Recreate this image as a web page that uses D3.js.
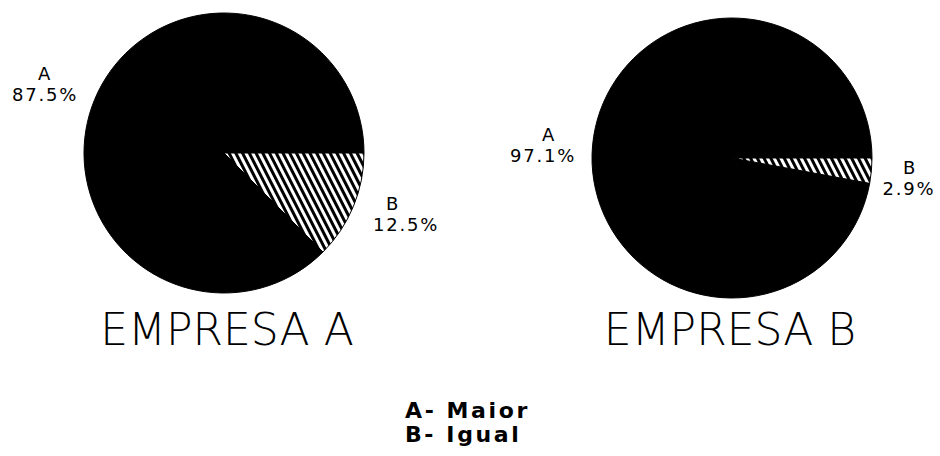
<!DOCTYPE html>
<html>
<head>
<meta charset="utf-8">
<script src="https://cdn.jsdelivr.net/npm/d3@7"></script>
<style>
  html, body { margin: 0; padding: 0; background: #fff; }
  svg { display: block; }
  .slice-label { font-family: "DejaVu Sans", sans-serif; font-size: 18px; fill: #000; letter-spacing: 1.8px; }
  .title { font-family: "DejaVu Sans", sans-serif; font-weight: 200; font-size: 44px; fill: #000; }
  .legend { font-family: "DejaVu Sans", sans-serif; font-weight: bold; font-size: 22px; fill: #000; letter-spacing: 2.6px; }
</style>
</head>
<body>
<svg id="chart" width="940" height="456"></svg>
<script>
// Answer categories and the share (%) each company gave to them
const categories = ["A", "B"];
const empresaA = [87.5, 12.5];
const empresaB = [97.1, 2.9];
const companies = ["EMPRESA A", "EMPRESA B"];
const legendLabels = ["A- Maior", "B- Igual"];

const svg = d3.select("#chart");

// Diagonal hatching used for the "B" slice
const defs = svg.append("defs");
const hatch = defs.append("pattern")
  .attr("id", "hatch")
  .attr("patternUnits", "userSpaceOnUse")
  .attr("width", 6).attr("height", 6)
  .attr("patternTransform", "rotate(-27)");
hatch.append("rect").attr("width", 6).attr("height", 6).attr("fill", "#000");
hatch.append("rect").attr("x", 0).attr("width", 3).attr("height", 6).attr("fill", "#fff");

const radius = 140;
const arc = d3.arc().innerRadius(0).outerRadius(radius);

// Pie layout: slice B starts at 3 o'clock and runs clockwise, A fills the rest
const pie = d3.pie()
  .value(d => d.value)
  .sort((a, b) => d3.descending(a.cat, b.cat))
  .startAngle(Math.PI / 2)
  .endAngle(Math.PI / 2 + 2 * Math.PI);

// Label anchors: [letter x, letter baseline, percent x, percent baseline]
const panels = [
  { name: companies[0], values: empresaA, cx: 224, cy: 153, titleX: 227,
    labels: { A: [45, 80, 45, 101], B: [393, 210, 406, 231] } },
  { name: companies[1], values: empresaB, cx: 732, cy: 158, titleX: 730,
    labels: { A: [549, 141, 543, 162], B: [910, 174, 909, 195] } }
];

const fillFor = { A: "#000", B: "url(#hatch)" };

panels.forEach(p => {
  const data = categories.map((c, i) => ({ cat: c, value: p.values[i] }));
  const g = svg.append("g").attr("transform", `translate(${p.cx},${p.cy})`);

  g.selectAll("path")
    .data(pie(data))
    .join("path")
    .attr("d", arc)
    .attr("fill", d => fillFor[d.data.cat])
    .attr("stroke", "#000")
    .attr("stroke-width", 1);

  // Slice labels: category letter above its percentage
  data.forEach(d => {
    const [lx, ly, px, py] = p.labels[d.cat];
    svg.append("text")
      .attr("class", "slice-label")
      .attr("text-anchor", "middle")
      .attr("x", lx).attr("y", ly)
      .text(d.cat);
    svg.append("text")
      .attr("class", "slice-label")
      .attr("text-anchor", "middle")
      .attr("x", px).attr("y", py)
      .text(d3.format(".1f")(d.value) + "%");
  });

  svg.append("text")
    .attr("class", "title")
    .attr("text-anchor", "middle")
    .attr("x", p.titleX).attr("y", 345)
    .text(p.name);
});

// Legend explaining the category letters
svg.selectAll("text.legend")
  .data(legendLabels)
  .join("text")
  .attr("class", "legend")
  .attr("x", 405)
  .attr("y", (d, i) => 418 + i * 24)
  .text(d => d);
</script>
</body>
</html>
